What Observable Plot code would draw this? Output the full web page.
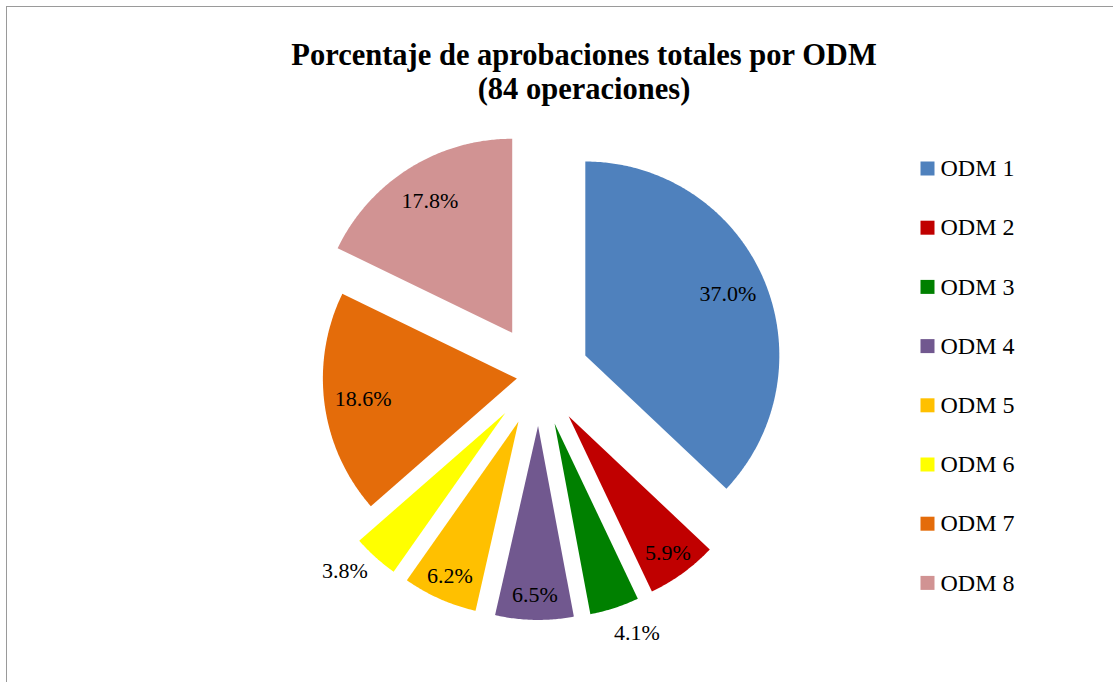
<!DOCTYPE html>
<html>
<head>
<meta charset="utf-8">
<script src="https://cdn.jsdelivr.net/npm/d3@7"></script>
<script src="https://cdn.jsdelivr.net/npm/@observablehq/plot@0.6"></script>
<style>
  html, body { margin: 0; padding: 0; background: #fff; overflow: hidden; }
  #wrap { position: relative; width: 1113px; height: 682px; }
  #frame { position: absolute; left: 6px; top: 6px; width: 1200px; height: 800px;
           border: 1.5px solid #9a9a9a; box-sizing: border-box; pointer-events: none; }
  #title { position: absolute; top: 38px; left: 0; width: 1168px; text-align: center;
           font: bold 30.5px "Liberation Serif", serif; line-height: 34px; color: #000; }
  #chart { position: absolute; left: 0; top: 0; }
</style>
</head>
<body>
<div id="wrap">
  <div id="chart"></div>
  <div id="title">Porcentaje de aprobaciones totales por ODM<br>(84 operaciones)</div>
  <div id="frame"></div>
</div>
<script>
// ---- data ----
const categories = ["ODM 1", "ODM 2", "ODM 3", "ODM 4", "ODM 5", "ODM 6", "ODM 7", "ODM 8"];
const values = [37.0, 5.9, 4.1, 6.5, 6.2, 3.8, 18.6, 17.8];
const colors = ["#4F81BD", "#C00000", "#008000", "#71588F", "#FFC000", "#FFFF00", "#E46C0A", "#D19393"];
// explosion of each slice as a fraction of the radius
const explode = [0.26, 0.26, 0.26, 0.26, 0.26, 0.26, 0.115, 0.26];

// ---- layout ----
const W = 1113, H = 682;
const cx = 538.5, cy = 375, R = 194;
const legendX = 927, legendTextX = 940, legendTop = 168, legendStep = 59.2;
const font = "Liberation Serif";

const rows = categories.map((c, i) => ({key: c, value: values[i]}));
const arcs = d3.pie().sort(null).value(d => d.value).startAngle(0).endAngle(2 * Math.PI)(rows);

const polys = [];
const labelData = [];
arcs.forEach((a, i) => {
  const mid = (a.startAngle + a.endAngle) / 2;
  const ox = cx + explode[i] * R * Math.sin(mid);
  const oy = cy - explode[i] * R * Math.cos(mid);
  const key = a.data.key;
  polys.push({key, x: ox, y: oy});
  const n = Math.max(2, Math.ceil((a.endAngle - a.startAngle) / (Math.PI / 360)));
  for (let k = 0; k <= n; k++) {
    const t = a.startAngle + (a.endAngle - a.startAngle) * k / n;
    polys.push({key, x: ox + R * Math.sin(t), y: oy - R * Math.cos(t)});
  }
  polys.push({key, x: ox, y: oy});
  const v = a.data.value;
  const inside = v >= 5;
  const f = v > 15 ? 0.8 : inside ? 0.87 : 1.16;
  // outside labels are nudged away from the bottom, as the best-fit placement does
  const ang = inside ? mid : mid + Math.sign(mid - Math.PI) * 0.06;
  labelData.push({text: v.toFixed(1) + "%", x: ox + f * R * Math.sin(ang), y: oy - f * R * Math.cos(ang)});
});

const legendData = categories.map((c, i) => ({key: c, y: legendTop + i * legendStep}));

const chart = Plot.plot({
  width: W, height: H, margin: 0,
  x: {domain: [0, W], range: [0, W], axis: null},
  y: {domain: [0, H], range: [0, H], axis: null},
  color: {domain: categories, range: colors},
  style: {fontFamily: font, background: "transparent"},
  marks: [
    Plot.line(polys, {x: "x", y: "y", z: "key", fill: "key", stroke: "none", curve: "linear"}),
    Plot.text(labelData, {x: "x", y: "y", text: "text", fontSize: 22, fill: "#000", fontFamily: font}),
    Plot.dot(legendData, {x: () => legendX, y: "y", symbol: "square", r: 14 / Math.sqrt(Math.PI), fill: "key", stroke: "none"}),
    Plot.text(legendData, {x: () => legendTextX, y: "y", text: "key", textAnchor: "start", fontSize: 24, fill: "#000", fontFamily: font})
  ]
});
document.getElementById("chart").appendChild(chart);
</script>
</body>
</html>
